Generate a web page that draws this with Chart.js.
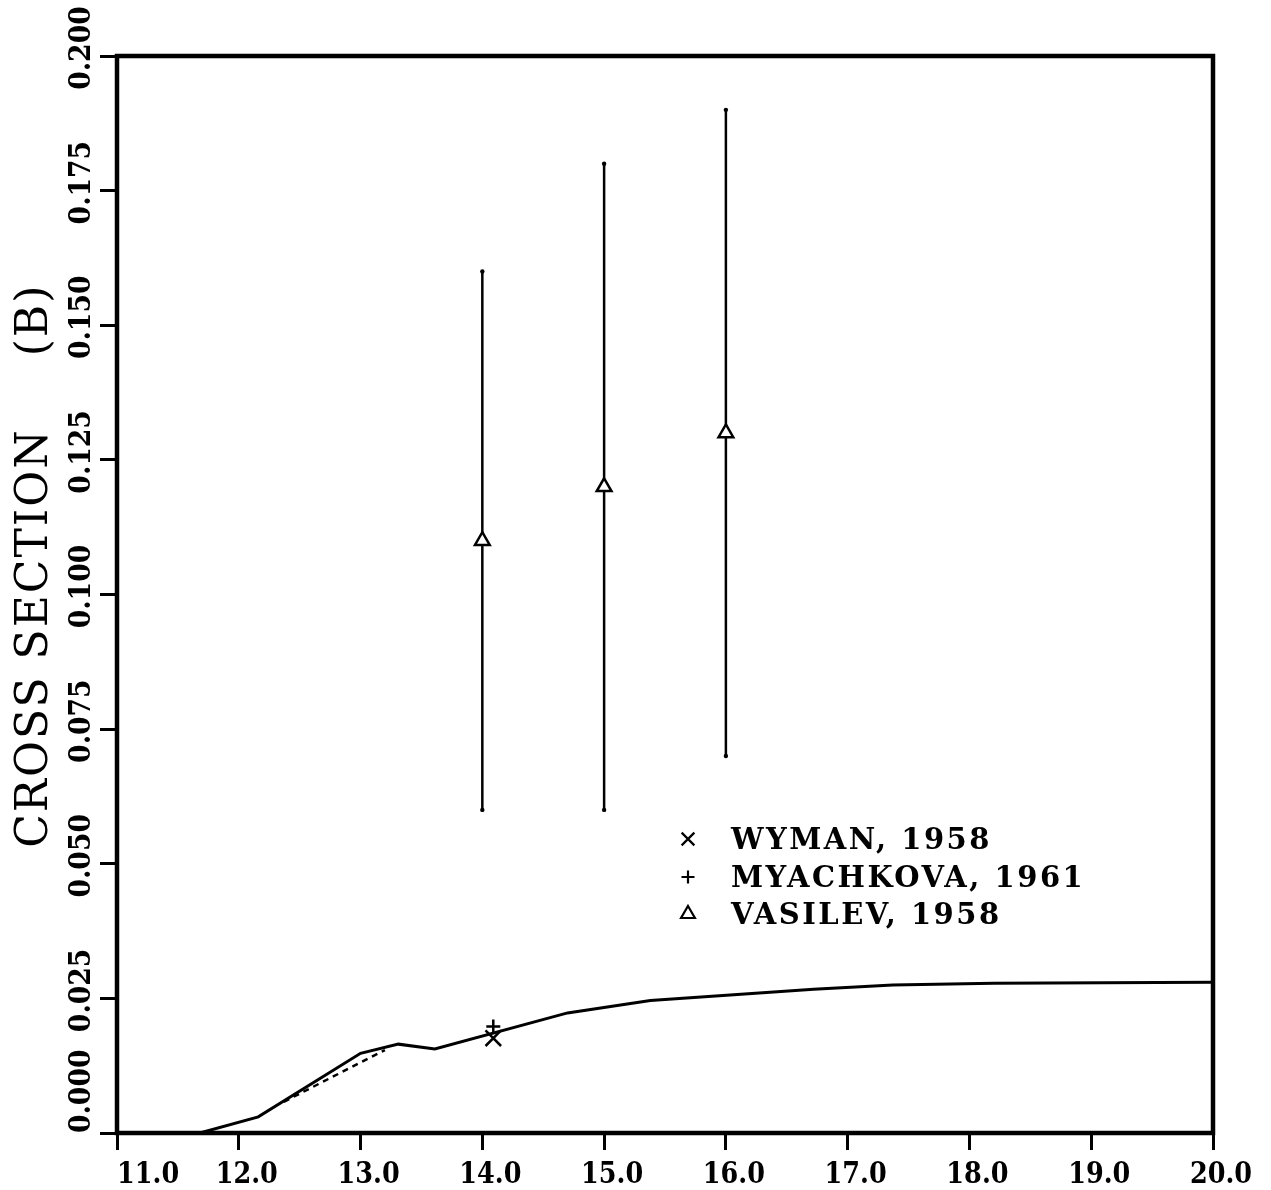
<!doctype html>
<html>
<head>
<meta charset="utf-8" />
<title>Cross section</title>
<script src="https://cdn.jsdelivr.net/npm/chart.js@4.4.0/dist/chart.umd.min.js"></script>
<style>
  html, body { margin: 0; padding: 0; background: #fff; }
</style>
</head>
<body>
<canvas id="myChart" width="1271" height="1190"></canvas>

<script>
// evaluated curve (solid line)
var curveX = [11.0, 11.68, 12.16, 13.0, 13.31, 13.61, 14.7, 15.38, 16.72, 17.37, 18.2, 20.0];
var curveY = [0.0, 0.0, 0.0030, 0.0148, 0.0165, 0.0156, 0.0223, 0.0246, 0.0267, 0.0275, 0.0278, 0.0280];
// dashed variant
var dashX = [12.37, 13.2];
var dashY = [0.0058, 0.0154];
// measurements
var wymanX = [14.09];
var wymanY = [0.0176];
var myachX = [14.09];
var myachY = [0.0198];
var vasX = [14.0, 15.0, 16.0];
var vasY = [0.110, 0.120, 0.130];
var vasLo = [0.060, 0.060, 0.070];
var vasHi = [0.160, 0.180, 0.190];

var xTicks = [11, 12, 13, 14, 15, 16, 17, 18, 19, 20];
var yTicks = [0, 0.025, 0.05, 0.075, 0.1, 0.125, 0.15, 0.175, 0.2];
var yTitle = ['CROSS SECTION', '(B)'];
var legendLabels = ['WYMAN, 1958', 'MYACHKOVA, 1961', 'VASILEV, 1958'];
var legendStyles = ['crossRot', 'cross', 'triangle'];
var legendRadius = [9, 6.5, 8];

function pts(xs, ys) {
  var out = [];
  for (var i = 0; i < xs.length; i++) out.push({x: xs[i], y: ys[i]});
  return out;
}

var paperPlugin = {
  id: 'paper',
  beforeDatasetsDraw: function (chart) {
    // error bars of Vasilev points
    var ctx = chart.ctx, xs = chart.scales.x, ys = chart.scales.y;
    ctx.save();
    ctx.strokeStyle = '#000';
    ctx.fillStyle = '#000';
    ctx.lineWidth = 2.5;
    for (var i = 0; i < vasX.length; i++) {
      var px = xs.getPixelForValue(vasX[i]);
      var lo = ys.getPixelForValue(vasLo[i]);
      var hi = ys.getPixelForValue(vasHi[i]);
      ctx.beginPath();
      ctx.moveTo(px, lo);
      ctx.lineTo(px, hi);
      ctx.stroke();
      ctx.beginPath(); ctx.arc(px, lo, 2.2, 0, Math.PI * 2); ctx.fill();
      ctx.beginPath(); ctx.arc(px, hi, 2.2, 0, Math.PI * 2); ctx.fill();
    }
    ctx.restore();
  },
  afterDraw: function (chart) {
    var ctx = chart.ctx, a = chart.chartArea;
    var xs = chart.scales.x, ys = chart.scales.y;
    ctx.save();
    // frame
    ctx.strokeStyle = '#000';
    ctx.lineWidth = 4.5;
    ctx.strokeRect(a.left, a.top, a.right - a.left, a.bottom - a.top);

    // x tick labels (narrow, tall digits)
    ctx.fillStyle = '#000';
    ctx.font = 'bold 29px "DejaVu Serif"';
    ctx.textBaseline = 'alphabetic';
    for (var i = 0; i < xTicks.length; i++) {
      var px = xs.getPixelForValue(xTicks[i]);
      ctx.save();
      ctx.translate(i === 0 ? px : px + 8, a.bottom + 50);
      ctx.scale(0.88, 1);
      ctx.textAlign = i === 0 ? 'left' : 'center';
      ctx.fillText(xTicks[i].toFixed(1), 0, 0);
      ctx.restore();
    }

    // y tick labels, rotated
    ctx.font = 'bold 30px "DejaVu Serif"';
    for (var j = 0; j < yTicks.length; j++) {
      var py = ys.getPixelForValue(yTicks[j]);
      ctx.save();
      ctx.translate(a.left - 27, py);
      ctx.rotate(-Math.PI / 2);
      if (j === 0) { ctx.scale(0.89, 1); ctx.textAlign = 'left'; ctx.fillText(yTicks[j].toFixed(3), 0, 0); }
      else { ctx.translate(8, 0); ctx.scale(0.89, 1); ctx.textAlign = 'center'; ctx.fillText(yTicks[j].toFixed(3), 0, 0); }
      ctx.restore();
    }

    // y title
    ctx.font = '44px "DejaVu Serif"';
    ctx.letterSpacing = '2px';
    ctx.textAlign = 'center';
    var titleY = [638, 320];
    for (var k = 0; k < yTitle.length; k++) {
      ctx.save();
      ctx.translate(47, titleY[k]);
      ctx.rotate(-Math.PI / 2);
      ctx.fillText(yTitle[k], 0, 0);
      ctx.restore();
    }

    // legend
    var rows = [839, 877, 914];
    ctx.font = 'bold 29px "DejaVu Serif"';
    ctx.letterSpacing = '2.5px';
    ctx.textAlign = 'left';
    for (var n = 0; n < legendLabels.length; n++) {
      ctx.fillStyle = '#fff';
      ctx.strokeStyle = '#000';
      ctx.lineWidth = 2.2;
      Chart.helpers.drawPoint(ctx, {pointStyle: legendStyles[n], radius: legendRadius[n], borderWidth: 2.2, rotation: 0}, 688, rows[n]);
      ctx.fillStyle = '#000';
      ctx.fillText(legendLabels[n], 731, rows[n] + 10);
    }
    ctx.restore();
  }
};

var ctx = document.getElementById('myChart');
var myChart = new Chart(ctx, {
  type: 'scatter',
  data: {
    datasets: [
      {
        label: 'curve',
        data: pts(curveX, curveY),
        showLine: true,
        borderColor: '#000',
        borderWidth: 3,
        pointRadius: 0,
        fill: false
      },
      {
        label: 'dashed',
        data: pts(dashX, dashY),
        showLine: true,
        borderColor: '#000',
        borderWidth: 2.5,
        borderDash: [6, 5],
        pointRadius: 0,
        fill: false
      },
      {
        label: 'WYMAN, 1958',
        data: pts(wymanX, wymanY),
        pointStyle: 'crossRot',
        pointRadius: 11,
        borderColor: '#000',
        borderWidth: 2.5
      },
      {
        label: 'MYACHKOVA, 1961',
        data: pts(myachX, myachY),
        pointStyle: 'cross',
        pointRadius: 7,
        borderColor: '#000',
        borderWidth: 2.5
      },
      {
        label: 'VASILEV, 1958',
        data: pts(vasX, vasY),
        pointStyle: 'triangle',
        pointRadius: 8.5,
        borderColor: '#000',
        backgroundColor: '#fff',
        borderWidth: 2.5
      }
    ]
  },
  options: {
    responsive: false,
    devicePixelRatio: 1,
    animation: false,
    layout: { padding: { top: 56, right: 58, left: 0, bottom: 0 } },
    plugins: {
      legend: { display: false },
      tooltip: { enabled: false }
    },
    scales: {
      x: {
        type: 'linear',
        min: 11,
        max: 20,
        afterFit: function (s) { s.height = 57; },
        border: { display: false },
        grid: { drawOnChartArea: false, drawTicks: true, tickLength: 17, tickWidth: 3, tickColor: '#000', color: '#000' },
        ticks: { stepSize: 1, color: 'rgba(0,0,0,0)', font: { size: 10 } }
      },
      y: {
        type: 'linear',
        min: 0,
        max: 0.2,
        afterFit: function (s) { s.width = 117; },
        border: { display: false },
        grid: { drawOnChartArea: false, drawTicks: true, tickLength: 17, tickWidth: 3, tickColor: '#000', color: '#000' },
        ticks: { stepSize: 0.025, color: 'rgba(0,0,0,0)', font: { size: 10 } }
      }
    }
  },
  plugins: [paperPlugin]
});
</script>
</body>
</html>
